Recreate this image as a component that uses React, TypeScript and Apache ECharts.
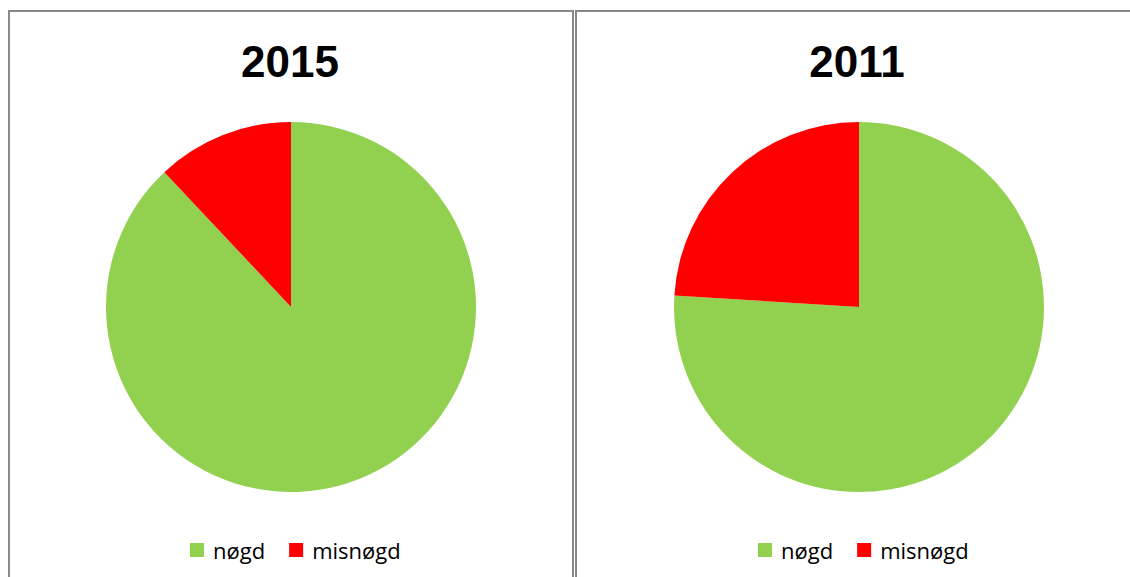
import React, { useEffect, useRef } from "react";
import * as echarts from "echarts";

const categories = ["nøgd", "misnøgd"];
const years = ["2015", "2011"];
const values2015 = [88, 12];
const values2011 = [76, 24];
const colors = ["#92D050", "#FF0000"];

export default function App() {
  const ref = useRef<HTMLDivElement>(null);
  useEffect(() => {
    if (!ref.current) return;
    const chart = echarts.init(ref.current, null, { renderer: "svg" });
    const centers = [291, 859];
    const titleX = [285, 852];
    const legendX = [185, 753];
    const seriesValues = [values2015, values2011];
    chart.setOption({
      animation: false,
      color: colors,
      title: years.map((y, i) => ({
        text: y,
        left: titleX[i],
        top: 34,
        textAlign: "center",
        textStyle: { fontFamily: "Liberation Sans", fontWeight: "bold", fontSize: 44, color: "#000" },
      })),
      legend: centers.map((c, i) => ({
        data: categories,
        left: legendX[i],
        top: 534,
        icon: "rect",
        itemWidth: 14,
        itemHeight: 14,
        itemGap: 24,
        selectedMode: false,
        textStyle: { fontFamily: "Open Sans", fontSize: 22, color: "#000", padding: [0, 0, 0, 4] },
        seriesIndex: i,
      })),
      graphic: [
        { type: "rect", shape: { x: 9, y: 11, width: 564, height: 600 }, style: { fill: "none", stroke: "#888", lineWidth: 2 } },
        { type: "rect", shape: { x: 576, y: 11, width: 600, height: 600 }, style: { fill: "none", stroke: "#888", lineWidth: 2 } },
      ],
      series: seriesValues.map((vals, i) => ({
        type: "pie",
        center: [centers[i], 307],
        radius: 185,
        startAngle: 90,
        clockwise: true,
        label: { show: false },
        labelLine: { show: false },
        silent: true,
        itemStyle: { borderWidth: 0 },
        data: categories.map((n, k) => ({ name: n, value: vals[k] })),
      })),
    });
    return () => chart.dispose();
  }, []);
  return (
    <div
      ref={ref}
      style={{ position: "absolute", left: 0, top: 0, width: 1130, height: 577 }}
    />
  );
}
